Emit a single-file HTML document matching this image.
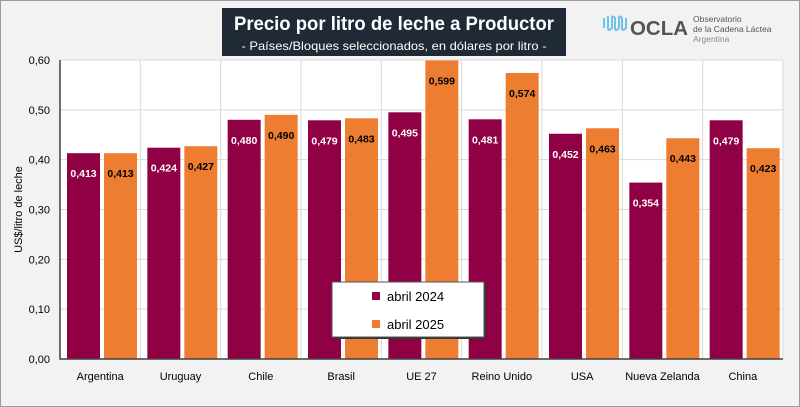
<!DOCTYPE html>
<html><head><meta charset="utf-8">
<style>
body{margin:0;width:800px;height:407px;overflow:hidden;background:#f2f2f2;font-family:"Liberation Sans",sans-serif}
#frame{position:absolute;left:0;top:0;width:798px;height:405px;border:1px solid #9a9a9a;background:#f2f2f2}
</style></head><body>
<div id="frame"></div>
<svg id="chart" width="800" height="407" style="position:absolute;left:0;top:0"></svg>
<script>
const categories=["Argentina","Uruguay","Chile","Brasil","UE 27","Reino Unido","USA","Nueva Zelanda","China"];
const series2024=[0.413,0.424,0.480,0.479,0.495,0.481,0.452,0.354,0.479];
const series2025=[0.413,0.427,0.490,0.483,0.599,0.574,0.463,0.443,0.423];
const yTicks=[0,0.1,0.2,0.3,0.4,0.5,0.6];
const seriesNames=["abril 2024","abril 2025"];
const colors=["#8f0045","#ed7d31"];

const NS="http://www.w3.org/2000/svg";
const svg=document.getElementById('chart');
const L=60,R=783,T=60,B=359,ymax=0.6;
const cw=(R-L)/categories.length;
const y=v=>B-(v/ymax)*(B-T);
const xc=i=>L+i*cw;
function el(t,a,txt){const e=document.createElementNS(NS,t);for(const k in a)e.setAttribute(k,a[k]);if(txt!=null)e.textContent=txt;svg.appendChild(e);return e;}

let e=el('rect',{x:L,y:T,width:R-L,height:B-T,fill:'#fff'});

yTicks.forEach(t=>{
 let g=el('line',{x1:L,x2:R,y1:y(t),y2:y(t),stroke:'#d9d9d9','stroke-width':1});
 
 let l=el('text',{x:L-10,y:y(t)+4,'text-anchor':'end','font-size':11,fill:'#000'},t.toFixed(2).replace('.',','));
 
});
for(let i=0;i<=categories.length;i++){
 let g=el('line',{x1:xc(i),x2:xc(i),y1:T,y2:B,stroke:'#d9d9d9','stroke-width':1});
 
}
const bw=33,off=7,gap=4;
categories.forEach((c,i)=>{
 [series2024,series2025].forEach((s,k)=>{
  const x=xc(i)+off+k*(bw+gap),v=s[i];
  let r=el('rect',{x:x,y:y(v),width:bw,height:B-y(v),fill:colors[k]});
  
  
  let t=el('text',{x:x+bw/2,y:y(v)+24,'text-anchor':'middle','font-size':10.5,'font-weight':'bold',fill:k?'#000':'#fff'},v.toFixed(3).replace('.',','));
  
 });
 let l=el('text',{x:xc(i)+cw/2,y:380,'text-anchor':'middle','font-size':11,fill:'#000'},c);
 
});
e=el('path',{d:`M${L} ${T}V${B}H${R}`,fill:'none',stroke:'#404040','stroke-width':1.5});

e=el('text',{x:0,y:0,transform:`translate(22,${(T+B)/2}) rotate(-90)`,'text-anchor':'middle','font-size':11,fill:'#000'},'US$/litro de leche');

// legend
e=el('rect',{x:334,y:284,width:152,height:55,fill:'#333'});

e=el('rect',{x:332,y:282,width:152,height:55,fill:'#fff',stroke:'#555'});

seriesNames.forEach((n,k)=>{
 let s=el('rect',{x:372,y:292+k*28,width:8,height:8,fill:colors[k]});
 
 let t=el('text',{x:387,y:301+k*28,'font-size':13,fill:'#000'},n);
 
});
// title
e=el('rect',{x:222,y:8,width:344,height:48,fill:'#1f2a36'});

e=el('text',{x:394,y:30,'text-anchor':'middle','font-size':19,'font-weight':'bold',fill:'#fff',textLength:320,lengthAdjust:'spacingAndGlyphs'},'Precio por litro de leche a Productor');

e=el('text',{x:394,y:50,'text-anchor':'middle','font-size':12,fill:'#fff',textLength:305,lengthAdjust:'spacingAndGlyphs'},'- Países/Bloques seleccionados, en dólares por litro -');

// logo
e=el('path',{d:'M604 18v10M608 16v12q0 4 4 0v-10q0-3 3 0v10q0 4 4 0v-10q0-3 3 0v10q0 4 4 0V18',fill:'none',stroke:'#6fc3e8','stroke-width':2});

e=el('text',{x:630,y:35,'font-size':20,'font-weight':'bold',fill:'#555',textLength:58,lengthAdjust:'spacingAndGlyphs'},'OCLA');

[['Observatorio',22],['de la Cadena Láctea',32],['Argentina',42]].forEach(([t,yy],i)=>{
 let x=el('text',{x:693,y:yy,'font-size':8.5,fill:i==2?'#888':'#555'},t);
 
});
</script>
</body></html>
